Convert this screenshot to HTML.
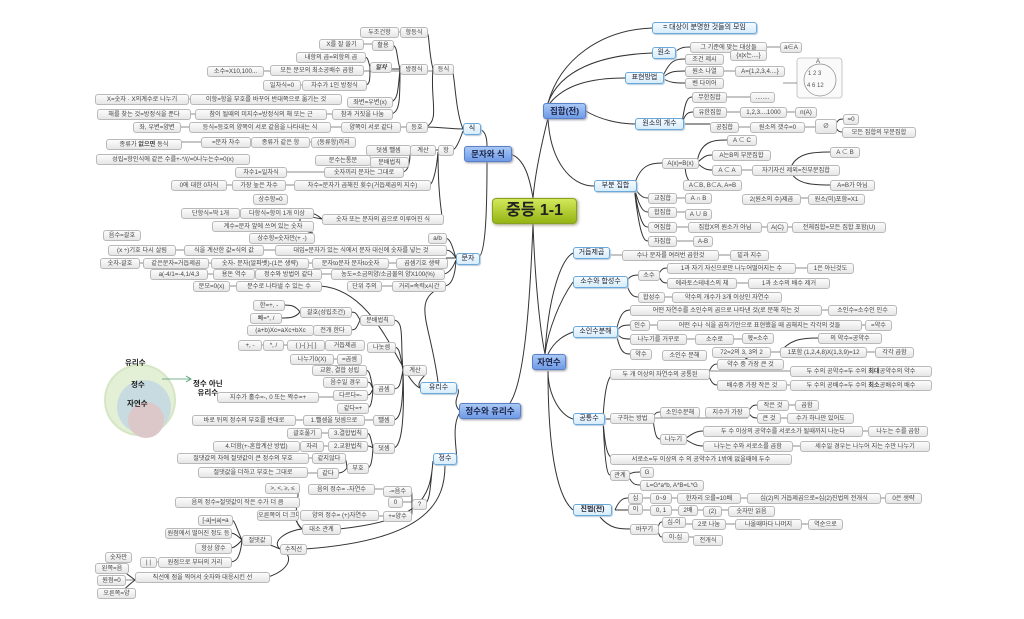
<!DOCTYPE html>
<html><head><meta charset="utf-8"><style>
body{margin:0;background:#fff;width:1024px;height:619px;overflow:hidden;position:relative;font-family:"Liberation Sans","Noto Sans CJK KR",sans-serif}
svg{position:absolute;left:0;top:0}
i{position:absolute;font-style:normal;height:9px;line-height:9px;font-size:6.2px;color:#444;text-align:center;white-space:nowrap;overflow:hidden;background:linear-gradient(#fcfcfc,#e6e6e6);border:1px solid #b9b9b9;border-radius:3px;box-sizing:content-box}
i.b{background:linear-gradient(#f4fbff,#d6ecfa);border:1px solid #6aa9da;color:#223;height:10px;line-height:10px;font-size:7px;box-shadow:1px 1px 1px #bcd}
i.m{background:linear-gradient(#a8c8f5,#6f9ae6);border:1px solid #5a80c8;color:#1b2448;height:14px;line-height:14px;font-size:8.5px;font-weight:bold;box-shadow:1px 1px 2px #99a}
i.c{background:linear-gradient(#d2e85a,#94b414);border:1px solid #8aa020;color:#222;height:24px;line-height:24px;font-size:16px;font-weight:bold;border-radius:4px;box-shadow:1px 1px 3px #997}
b.t{position:absolute;font-size:7.5px;font-weight:bold;color:#222;text-align:center}
</style></head><body>
<svg width="1024" height="619" fill="none" stroke="#333" stroke-width="0.8">
<g stroke="#666" stroke-width="0.7">
<path d="M360,32H426M319,44H392M207,71H452M263,85H365M95,99H340M97,114H391M133,127H426M106,142H354M366,150H452M315,160H370M235,172H402M171,185H429M181,213H312M212,226H312M108,250H445M100,263H446M150,274H443M193,286H320M347,286H444"/>
<path d="M247,330H350M238,345H363M290,359H360M217,397H366M192,420H393M287,433H366M213,446H366M177,458H344M198,473H337M308,489H410M388,502H425M300,516H410M140,562H230M97,580H268"/>
<path d="M690,47H800M685,71H783M692,97H773M693,112H815M710,127H835M712,170H838M648,198H710M742,198H863M648,212H710M648,227H884M648,241H711M608,255H767M667,268H852M667,283H828M663,297H780M630,310H895M630,325H890M630,339H772M712,352H912M662,355H705M717,385H930M757,405H817M757,418H852M610,418H748M703,431H926M703,446H928M628,498H920M628,510H773M662,524H841M662,537H721M705,371H790"/>
</g>
<g stroke="#333" stroke-width="1">
<path d="M548,118C540,150 535,175 533,198"/>
<path d="M510,154C525,158 530,180 533,198"/>
<path d="M533,224C530,300 525,380 510,403"/>
<path d="M533,224C535,280 540,330 545,354"/>
<path d="M548,371C548,440 555,495 573,510"/>
<path d="M548,371C548,395 560,415 573,419"/>
<path d="M545,354C548,330 560,300 573,282"/>
<path d="M545,354C548,300 560,260 573,253"/>
<path d="M548,354C555,340 565,335 573,332"/>
<path d="M548,103C560,60 600,30 652,28"/>
<path d="M548,103C560,70 600,55 652,53"/>
<path d="M550,103C565,85 590,78 625,78"/>
<path d="M584,110C600,120 620,124 635,124"/>
<path d="M548,118C550,160 570,186 594,186"/>
<path d="M487,146C487,135 484,130 479,129"/>
<path d="M487,162C487,220 485,255 478,258"/>
<path d="M463,129C455,110 455,75 452,69M463,129C450,129 440,127 426,127M463,131C458,145 455,150 452,150"/>
<path d="M433,69C428,50 430,32 426,32M433,69C430,100 440,120 426,127"/>
<path d="M400,69C396,55 398,46 392,45M400,69H390M400,69C398,90 398,100 391,102M400,69C400,100 400,112 391,114"/>
<path d="M370,67C368,60 368,57 364,57M370,67C370,80 370,85 365,85"/>
<path d="M438,150H434M438,152C436,175 432,185 429,185M438,152C438,200 442,210 442,219"/>
<path d="M410,150H409M410,152C410,160 410,162 407,162M410,152C410,168 406,172 402,172"/>
<path d="M456,258C452,245 450,238 445,238M456,258C452,252 450,250 445,250M456,258H446M456,260C452,270 448,274 443,274M456,260C455,280 450,286 444,286"/>
<path d="M322,219C300,200 290,230 313,233M322,219C300,215 300,214 312,213"/>
<path d="M459,410C450,400 465,390 455,388"/>
<path d="M459,414C450,430 460,460 455,459"/>
<path d="M420,388C400,380 380,290 320,286M438,382C430,320 410,300 444,286"/>
<path d="M420,388C415,380 430,375 425,370"/>
<path d="M403,370C400,340 405,320 393,320M403,370C400,355 400,347 394,347M403,370C400,385 400,389 393,389M403,370C403,410 400,420 393,420M403,370C405,430 400,448 393,448"/>
<path d="M360,320C356,312 355,312 350,312M360,320C356,330 355,330 350,330M300,312C295,305 290,305 283,305M300,312C295,318 290,318 280,318"/>
<path d="M373,389C370,375 370,370 365,370M373,389C370,382 370,382 366,382M373,389C370,395 370,395 366,395M373,389C372,405 370,408 367,408"/>
<path d="M373,448C370,435 370,433 366,433M373,448C370,446 370,446 366,446M373,448C372,465 370,468 367,468M347,468C346,458 345,458 344,458M347,468C343,473 340,473 337,473"/>
<path d="M433,461C430,490 430,500 425,504M433,461C430,500 420,520 339,529M445,465C445,500 430,540 305,549"/>
<path d="M412,504C412,492 412,491 410,491M412,504C412,516 412,516 410,516"/>
<path d="M302,529C290,520 300,500 298,487M302,529C290,515 295,510 297,515M280,549C270,540 290,530 302,529M280,549C260,540 250,540 242,540M242,540C235,525 235,520 231,520M242,540C235,533 232,533 230,533M242,540C235,548 232,548 230,548M242,540C240,560 235,562 230,562M268,577C290,570 295,555 280,549M135,580C120,568 115,568 127,568M135,580C120,592 120,593 134,593"/>
<path d="M674,53C680,47 685,47 690,47M662,78C670,60 675,59 685,59M662,78C670,71 675,71 685,71M662,78C670,83 675,83 685,83"/>
<path d="M682,124C685,100 688,97 692,97M682,124C685,112 690,112 693,112M682,124H710"/>
<path d="M634,186C640,165 650,163 662,163M634,186C640,198 645,198 648,198M634,186C640,212 645,212 648,212M634,186C640,227 645,227 648,227M634,186C640,241 645,241 648,241"/>
<path d="M697,163C700,140 715,140 727,140M697,163C705,155 708,155 712,155M697,163C705,170 708,170 712,170M685,163C685,180 690,185 700,185"/>
<path d="M790,170C795,152 815,152 830,152M790,170C795,185 815,185 830,185"/>
<path d="M835,126C838,119 840,119 843,119M835,126C838,132 840,132 842,132"/>
<path d="M626,282C630,275 635,275 638,275M626,282C630,297 635,297 638,297M658,275C662,268 664,268 667,268M658,275C662,283 664,283 667,283"/>
<path d="M616,332C620,312 625,310 630,310M616,332C620,325 625,325 630,325M616,332C620,339 625,339 630,339M616,332C620,354 625,354 630,354"/>
<path d="M740,352C745,362 760,364 782,364M780,352C790,340 800,338 818,338"/>
<path d="M603,419C605,380 610,374 615,374M603,419H610M603,419C605,450 608,459 615,459M603,419C605,470 608,475 610,475"/>
<path d="M708,374C712,385 715,385 717,385M708,374C712,364 715,364 717,364M653,418C655,412 658,412 660,412M653,418C655,439 658,439 660,439M748,412C752,405 754,405 757,405M748,412C752,418 754,418 757,418M685,439C695,431 700,431 703,431M685,439C695,446 700,446 703,446M628,475C632,472 636,472 640,472M628,475C632,485 636,485 640,485"/>
<path d="M615,510C620,498 625,498 628,498M615,510H628M600,517C610,529 620,529 630,529M657,529C660,522 660,522 662,522M657,529C660,537 660,537 662,537"/>
</g>
<circle cx="140" cy="400" r="35" fill="#e3f0d6" stroke="#d6e6c4" stroke-width="2"/>
<circle cx="144" cy="407" r="27" fill="#c8dbe0" stroke="none"/>
<circle cx="146" cy="420" r="18" fill="#dcc8c8" stroke="none"/>
<path d="M162,379H190" stroke="#4a9a6a" stroke-width="0.8"/>
<path d="M186,376L191,379L186,382" stroke="#4a9a6a" stroke-width="0.8"/>
<rect x="797" y="58" width="45" height="40" rx="3" fill="#fafafa" stroke="#bbb"/>
<circle cx="820" cy="80" r="16" stroke="#888" stroke-width="0.7"/>
<path d="M783,83H797" stroke="#666" stroke-width="0.7"/>
</svg>
<b class="t" style="left:125px;top:357px">유리수</b>
<b class="t" style="left:131px;top:379px">정수</b>
<b class="t" style="left:127px;top:398px">자연수</b>
<b class="t" style="left:193px;top:379px;line-height:9px">정수 아닌<br>유리수</b>
<div style="position:absolute;left:816px;top:59px;font-size:6px;color:#555">A</div>
<div style="position:absolute;left:808px;top:71px;font-size:6px;color:#555">1 2 3</div>
<div style="position:absolute;left:807px;top:83px;font-size:6px;color:#555">4 6 12</div>

<i class="c" style="left:492px;top:198px;width:83px">중등 1-1</i>
<i class="m" style="left:464px;top:146px;width:46px">문자와 식</i>
<i class="m" style="left:459px;top:403px;width:60px">정수와 유리수</i>
<i class="m" style="left:543px;top:103px;width:41px">집합(전)</i>
<i class="m" style="left:532px;top:354px;width:32px">자연수</i>
<i class="b" style="left:463px;top:123px;width:16px">식</i>
<i class="b" style="left:456px;top:253px;width:22px">문자</i>
<i class="b" style="left:420px;top:382px;width:35px">유리수</i>
<i class="b" style="left:433px;top:453px;width:22px">정수</i>
<i class="b" style="left:652px;top:22px;width:103px">= 대상이 분명한 것들의 모임</i>
<i class="b" style="left:652px;top:47px;width:22px">원소</i>
<i class="b" style="left:625px;top:72px;width:37px">표현방법</i>
<i class="b" style="left:635px;top:118px;width:47px">원소의 개수</i>
<i class="b" style="left:594px;top:180px;width:41px">부분 집합</i>
<i class="b" style="left:573px;top:247px;width:35px">거듭제곱</i>
<i class="b" style="left:573px;top:276px;width:53px">소수와 합성수</i>
<i class="b" style="left:573px;top:326px;width:43px">소인수분해</i>
<i class="b" style="left:573px;top:413px;width:30px">공통수</i>
<i class="b" style="left:573px;top:504px;width:37px;font-weight:bold">진법(전)</i>

<i style="left:360px;top:27px;width:37px">두조건항</i>
<i style="left:400px;top:27px;width:26px">항등식</i>
<i style="left:319px;top:39px;width:43px">X를 잘 쓸기</i>
<i style="left:372px;top:40px;width:20px">활용</i>
<i style="left:296px;top:52px;width:68px">내항의 곱=외항의 곱</i>
<i style="left:370px;top:62px;width:20px;font-weight:bold;font-style:italic">일차</i>
<i style="left:400px;top:64px;width:26px">방정식</i>
<i style="left:433px;top:64px;width:19px">등식</i>
<i style="left:207px;top:66px;width:55px">소수=X10,100...</i>
<i style="left:270px;top:65px;width:92px">모든 분모의 최소공배수 곱함</i>
<i style="left:263px;top:80px;width:36px">일차식=0</i>
<i style="left:302px;top:80px;width:63px">차수가 1인 방정식</i>
<i style="left:95px;top:94px;width:92px">X=숫자 · X의계수로 나누기</i>
<i style="left:190px;top:94px;width:150px">이항=항을 부호를 바꾸어 반대쪽으로 옮기는 것</i>
<i style="left:347px;top:97px;width:44px">좌변=우변(x)</i>
<i style="left:97px;top:109px;width:92px">해를 찾는 것=방정식을 푼다</i>
<i style="left:195px;top:109px;width:130px">참이 될때의 미지수=방정식의 해 또는 근</i>
<i style="left:332px;top:109px;width:59px">참과 거짓을 나눔</i>
<i style="left:133px;top:122px;width:46px">좌, 우변=양변</i>
<i style="left:189px;top:122px;width:140px">등식=등호의 양쪽이 서로 같음을 나타내는 식</i>
<i style="left:341px;top:122px;width:58px">양쪽이 서로 같다</i>
<i style="left:406px;top:122px;width:20px">등호</i>
<i style="left:201px;top:137px;width:48px">=문자 차수</i>
<i style="left:251px;top:137px;width:57px">종류가 같은 항</i>
<i style="left:311px;top:137px;width:43px">(동류항)끼리</i>
<i style="left:106px;top:139px;width:74px">종류가 <b>없으면</b> 동식</i>
<i style="left:366px;top:145px;width:43px">덧셈 뺄셈</i>
<i style="left:410px;top:145px;width:24px">계산</i>
<i style="left:438px;top:145px;width:14px">항</i>
<i style="left:96px;top:154px;width:152px">성립=항인식에 같은 수를+-*/(/=0나누는수=0(x)</i>
<i style="left:315px;top:155px;width:54px">분수는통분</i>
<i style="left:370px;top:157px;width:37px">분배법칙</i>
<i style="left:235px;top:167px;width:50px">차수1=일차식</i>
<i style="left:324px;top:167px;width:78px">숫자끼리 문자는 그대로</i>
<i style="left:171px;top:180px;width:54px">0에 대한 0차식</i>
<i style="left:232px;top:180px;width:52px">가장 높은 차수</i>
<i style="left:294px;top:180px;width:135px">차수=문자가 곱해진 횟수(거듭제곱의 지수)</i>
<i style="left:253px;top:194px;width:33px">상수항=0</i>
<i style="left:181px;top:208px;width:57px">단항식=딱 1개</i>
<i style="left:240px;top:208px;width:72px">다항식=항이 1개 이상</i>
<i style="left:322px;top:214px;width:120px">숫자 또는 문자의 곱으로 이루어진 식</i>
<i style="left:212px;top:221px;width:100px">계수=문자 앞에 쓰여 있는 숫자</i>
<i style="left:249px;top:233px;width:64px">상수항=숫자만(+ -)</i>
<i style="left:103px;top:230px;width:36px">음수=괄호</i>
<i style="left:428px;top:233px;width:17px">a/b</i>
<i style="left:108px;top:245px;width:66px">(x ÷)기호 다시 살림</i>
<i style="left:184px;top:245px;width:78px">식을 계산한 값=식의 값</i>
<i style="left:275px;top:245px;width:170px">대입=문자가 있는 식에서 문자 대신에 숫자를 넣는 것</i>
<i style="left:100px;top:258px;width:38px">숫자-괄호</i>
<i style="left:143px;top:258px;width:64px">같은문자=거듭제곱</i>
<i style="left:211px;top:258px;width:96px">숫자- 문자(알파벳)-(1은 생략)</i>
<i style="left:312px;top:258px;width:75px">문자to문자 문자to숫자</i>
<i style="left:396px;top:258px;width:50px">곱셈기호 생략</i>
<i style="left:150px;top:269px;width:56px">a(-4/1=-4,1/4,3</i>
<i style="left:213px;top:269px;width:40px">용돈 역수</i>
<i style="left:255px;top:269px;width:65px">정수와 방법이 같다</i>
<i style="left:331px;top:269px;width:112px">농도=소금의양/소금물의 양X100(%)</i>
<i style="left:193px;top:281px;width:35px">분모=0(x)</i>
<i style="left:236px;top:281px;width:84px">분수로 나타낼 수 있는 수</i>
<i style="left:347px;top:281px;width:33px">단위 주의</i>
<i style="left:392px;top:281px;width:52px">거리=속력x시간</i>

<i style="left:253px;top:300px;width:30px">한=+, -</i>
<i style="left:300px;top:307px;width:50px">괄호(성립조건)</i>
<i style="left:360px;top:315px;width:33px">분배법칙</i>
<i style="left:250px;top:313px;width:30px">빼=*, /</i>
<i style="left:247px;top:325px;width:65px">(a+b)Xc=aXc+bXc</i>
<i style="left:313px;top:325px;width:37px">전개 한다</i>
<i style="left:238px;top:340px;width:22px">+, -</i>
<i style="left:263px;top:340px;width:19px">*, /</i>
<i style="left:287px;top:340px;width:36px">( )-{ }-[ ]</i>
<i style="left:325px;top:340px;width:38px">거듭제곱</i>
<i style="left:367px;top:342px;width:27px">나눗셈</i>
<i style="left:290px;top:354px;width:42px">나누기0(X)</i>
<i style="left:337px;top:354px;width:23px">=곱셈</i>
<i style="left:403px;top:365px;width:22px">계산</i>
<i style="left:312px;top:365px;width:53px">교환, 결합 성립</i>
<i style="left:323px;top:377px;width:43px">음수일 경우</i>
<i style="left:373px;top:384px;width:20px">곱셈</i>
<i style="left:333px;top:390px;width:33px">다르다=-</i>
<i style="left:217px;top:392px;width:100px">지수가 홀수=-, 0 또는 짝수=+</i>
<i style="left:337px;top:403px;width:30px">같다=+</i>
<i style="left:192px;top:415px;width:102px">바로 뒤의 정수의 부호를 반대로</i>
<i style="left:303px;top:415px;width:60px">1.뺄셈을 덧셈으로</i>
<i style="left:373px;top:415px;width:20px">뺄셈</i>
<i style="left:287px;top:428px;width:33px">괄호풀기</i>
<i style="left:328px;top:428px;width:38px">3.결합법칙</i>
<i style="left:213px;top:441px;width:85px">4.더함(+-혼합계산 방법)</i>
<i style="left:300px;top:441px;width:22px">자리</i>
<i style="left:328px;top:441px;width:38px">2.교환법칙</i>
<i style="left:373px;top:443px;width:20px">덧셈</i>
<i style="left:177px;top:453px;width:130px">절댓값의 차에 절댓값이 큰 정수의 부호</i>
<i style="left:312px;top:453px;width:32px">같지않다</i>
<i style="left:347px;top:463px;width:20px">부호</i>
<i style="left:198px;top:467px;width:108px">절댓값을 더하고 부호는 그대로</i>
<i style="left:317px;top:468px;width:20px">같다</i>
<i style="left:265px;top:483px;width:33px">&gt;, &lt;, ≥, ≤</i>
<i style="left:308px;top:484px;width:65px">음의 정수= -자연수</i>
<i style="left:383px;top:486px;width:27px">-=음수</i>
<i style="left:175px;top:497px;width:123px">음의 정수=절댓값이 작은 수가 더 큼</i>
<i style="left:388px;top:497px;width:13px">0</i>
<i style="left:412px;top:499px;width:13px">?</i>
<i style="left:257px;top:510px;width:40px">오른쪽이 더 크다</i>
<i style="left:300px;top:510px;width:77px">양의 정수= (+)자연수</i>
<i style="left:383px;top:511px;width:27px">+=양수</i>
<i style="left:198px;top:515px;width:33px">[-a]=|a|=a</i>
<i style="left:302px;top:524px;width:37px">대소 관계</i>
<i style="left:165px;top:528px;width:65px">원점에서 떨어진 정도 등</i>
<i style="left:242px;top:535px;width:28px">절댓값</i>
<i style="left:195px;top:543px;width:35px">항상 양수</i>
<i style="left:280px;top:544px;width:25px">수직선</i>
<i style="left:105px;top:552px;width:25px">숫자만</i>
<i style="left:140px;top:557px;width:15px">| |</i>
<i style="left:158px;top:557px;width:72px">원점으로 부터의 거리</i>
<i style="left:95px;top:563px;width:32px">왼쪽=음</i>
<i style="left:97px;top:575px;width:27px">원점=0</i>
<i style="left:135px;top:572px;width:133px">직선에 점을 찍어서 숫자와 대응시킨 선</i>
<i style="left:97px;top:588px;width:37px">오른쪽=양</i>

<i style="left:690px;top:42px;width:75px">그 기준에 맞는 대상들</i>
<i style="left:780px;top:42px;width:20px">a∈A</i>
<i style="left:730px;top:50px;width:35px">{x|x는....}</i>
<i style="left:685px;top:54px;width:37px">조건 제시</i>
<i style="left:685px;top:66px;width:37px">원소 나열</i>
<i style="left:735px;top:66px;width:48px">A={1,2,3,4....}</i>
<i style="left:685px;top:78px;width:37px">벤 다이어</i>
<i style="left:692px;top:92px;width:33px">무한집합</i>
<i style="left:750px;top:92px;width:23px">........</i>
<i style="left:693px;top:107px;width:32px">유한집합</i>
<i style="left:740px;top:107px;width:45px">1,2,3....1000</i>
<i style="left:795px;top:107px;width:20px">n(A)</i>
<i style="left:710px;top:122px;width:27px">공집합</i>
<i style="left:750px;top:122px;width:53px">원소의 갯수=0</i>
<i style="left:815px;top:119px;width:20px;height:13px;line-height:13px">∅</i>
<i style="left:843px;top:114px;width:14px">=0</i>
<i style="left:842px;top:127px;width:72px">모든 집합의 부분집합</i>
<i style="left:727px;top:135px;width:28px">A ⊂ C</i>
<i style="left:712px;top:150px;width:57px">A는B의 부분집합</i>
<i style="left:662px;top:158px;width:35px">A(x)=B(x)</i>
<i style="left:830px;top:147px;width:28px">A ⊂ B</i>
<i style="left:712px;top:165px;width:28px">A ⊂ A</i>
<i style="left:752px;top:165px;width:86px">자기자신 제외=진부분집합</i>
<i style="left:830px;top:180px;width:43px">A=B가 아님</i>
<i style="left:683px;top:180px;width:57px">A⊂B, B⊂A, A=B</i>
<i style="left:648px;top:193px;width:27px">교집합</i>
<i style="left:685px;top:193px;width:25px">A ∩ B</i>
<i style="left:742px;top:194px;width:57px">2(원소의 수)제곱</i>
<i style="left:808px;top:194px;width:55px">원소(미)포함=X1</i>
<i style="left:648px;top:207px;width:27px">합집합</i>
<i style="left:685px;top:209px;width:25px">A ∪ B</i>
<i style="left:648px;top:222px;width:27px">여집합</i>
<i style="left:688px;top:222px;width:72px">집합X의 원소가 아님</i>
<i style="left:767px;top:222px;width:19px">A(C)</i>
<i style="left:792px;top:222px;width:92px">전체집합=모든 집합 포함(U)</i>
<i style="left:648px;top:236px;width:27px">차집합</i>
<i style="left:693px;top:236px;width:18px">A-B</i>
<i style="left:622px;top:250px;width:95px">수나 문자를 여러번 곱한것</i>
<i style="left:730px;top:250px;width:37px">밑과 지수</i>
<i style="left:638px;top:270px;width:20px">소수</i>
<i style="left:667px;top:263px;width:127px">1과 자기 자신으로만 나누어떨어지는 수</i>
<i style="left:807px;top:263px;width:45px">1은 아닌것도</i>
<i style="left:667px;top:278px;width:68px">에라토스테네스의 체</i>
<i style="left:748px;top:278px;width:80px">1과 소수의 배수 제거</i>
<i style="left:638px;top:292px;width:25px">합성수</i>
<i style="left:672px;top:292px;width:108px">약수의 개수가 3개 이상인 자연수</i>
<i style="left:630px;top:305px;width:190px">어떤 자연수를 소인수의 곱으로 나타낸 것(로 분해 하는 것</i>
<i style="left:828px;top:305px;width:67px">소인수=소수인 인수</i>
<i style="left:630px;top:320px;width:18px">인수</i>
<i style="left:657px;top:320px;width:203px">어떤 수나 식을 곱하기만으로 표현했을 때 곱해지는 각각의 것들</i>
<i style="left:865px;top:320px;width:25px">=약수</i>
<i style="left:630px;top:334px;width:55px">나누기를 거꾸로</i>
<i style="left:695px;top:334px;width:37px">소수로</i>
<i style="left:742px;top:333px;width:30px">몫=소수</i>
<i style="left:818px;top:333px;width:62px">의 약수=공약수</i>
<i style="left:630px;top:349px;width:20px">약수</i>
<i style="left:662px;top:350px;width:43px">소인수 분해</i>
<i style="left:712px;top:347px;width:57px">72=2의 3, 3의 2</i>
<i style="left:780px;top:347px;width:85px">1포함 (1,2,4,8)X(1,3,9)=12</i>
<i style="left:875px;top:347px;width:37px">각각 곱함</i>
<i style="left:717px;top:359px;width:65px">약수 중 가장 큰 것</i>
<i style="left:610px;top:369px;width:98px">두 개 이상의 자연수의 공통된</i>
<i style="left:790px;top:366px;width:140px">두 수의 공약수=두 수의 <b>최대</b>공약수의 약수</i>
<i style="left:717px;top:380px;width:68px">배수중 가장 작은 것</i>
<i style="left:790px;top:380px;width:140px">두 수의 공배수=두 수의 <b>최소</b>공배수의 배수</i>
<i style="left:610px;top:413px;width:43px">구하는 방법</i>
<i style="left:660px;top:407px;width:38px">소인수분해</i>
<i style="left:705px;top:407px;width:43px">지수가 가장</i>
<i style="left:757px;top:400px;width:30px">작은 것</i>
<i style="left:795px;top:400px;width:22px">곱함</i>
<i style="left:757px;top:413px;width:22px">큰 것</i>
<i style="left:787px;top:413px;width:65px">수가 하나만 있어도</i>
<i style="left:660px;top:434px;width:25px">나누기</i>
<i style="left:703px;top:426px;width:158px">두 수 이상의 공약수를 서로소가 될때까지 나눈다</i>
<i style="left:868px;top:426px;width:58px">나누는 수를 곱함</i>
<i style="left:703px;top:441px;width:88px">나누는 수와 서로소를 곱함</i>
<i style="left:800px;top:441px;width:128px">세수일 경우는 나누어 지는 수만 나누기</i>
<i style="left:610px;top:454px;width:180px">서로소=두 이상의 수 의 공약수가 1밖에 없을때에 두수</i>
<i style="left:610px;top:470px;width:18px">관계</i>
<i style="left:640px;top:467px;width:12px">G</i>
<i style="left:640px;top:480px;width:62px">L=G*a*b, A*B=L*G</i>
<i style="left:628px;top:493px;width:13px">십</i>
<i style="left:650px;top:493px;width:20px">0~9</i>
<i style="left:677px;top:493px;width:62px">한자리 오를=10배</i>
<i style="left:747px;top:493px;width:132px">십(2)의 거듭제곱으로=십(2)진법의 전개식</i>
<i style="left:885px;top:493px;width:35px">0은 생략</i>
<i style="left:628px;top:504px;width:13px">이</i>
<i style="left:650px;top:505px;width:20px">0, 1</i>
<i style="left:678px;top:505px;width:18px">2배</i>
<i style="left:703px;top:506px;width:17px">(2)</i>
<i style="left:728px;top:506px;width:45px">숫자만 읽음</i>
<i style="left:662px;top:517px;width:22px">십-이</i>
<i style="left:692px;top:519px;width:32px">2로 나눔</i>
<i style="left:735px;top:519px;width:65px">나올때마다 나머지</i>
<i style="left:808px;top:519px;width:33px">역순으로</i>
<i style="left:630px;top:524px;width:27px">바꾸기</i>
<i style="left:662px;top:532px;width:25px">이-십</i>
<i style="left:693px;top:535px;width:28px">전개식</i>
</body></html>
